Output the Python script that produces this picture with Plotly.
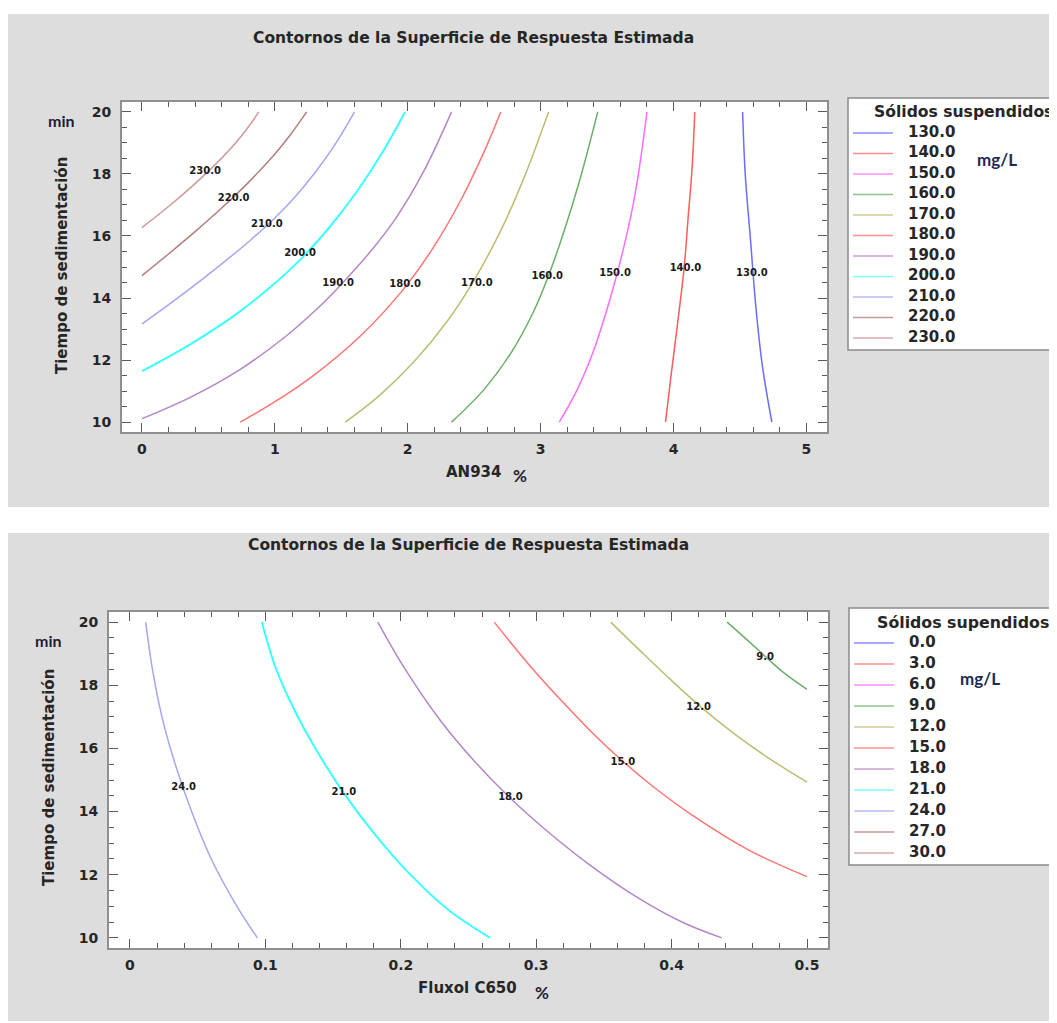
import plotly.graph_objects as go

# page body adds an 8px margin, so the figure is drawn 8px smaller and shifted
PAGE_W, PAGE_H = 1057, 1023
OFF = 8
W, H = PAGE_W - OFF, PAGE_H - OFF

# ---------------- DATA: top panel (AN934 %) ----------------
an_levels = [130, 140, 150, 160, 170, 180, 190, 200, 210, 220, 230]

an_130_x = [4.74, 4.67, 4.62, 4.58, 4.54, 4.52]
an_130_y = [10.0, 11.77, 13.70, 15.84, 17.98, 20.0]
an_140_x = [3.94, 3.98, 4.03, 4.08, 4.11, 4.14, 4.16]
an_140_y = [10.0, 11.45, 13.16, 14.98, 16.59, 18.20, 20.0]
an_150_x = [3.14, 3.27, 3.39, 3.49, 3.57, 3.64, 3.70, 3.75, 3.80]
an_150_y = [10.0, 11.0, 12.2, 13.5, 14.7, 15.9, 17.1, 18.4, 20.0]
an_160_x = [2.33, 2.57, 2.78, 2.95, 3.05, 3.17, 3.29, 3.43]
an_160_y = [10.0, 11.03, 12.25, 13.59, 14.61, 16.07, 17.73, 20.0]
an_170_x = [1.53, 1.78, 2.05, 2.29, 2.50, 2.71, 2.88, 3.06]
an_170_y = [10.0, 10.83, 11.96, 13.21, 14.58, 16.26, 17.93, 20.0]
an_180_x = [0.74, 0.98, 1.29, 1.64, 1.95, 2.19, 2.40, 2.57, 2.70]
an_180_y = [10.0, 10.60, 11.50, 12.76, 14.19, 15.61, 17.16, 18.67, 20.0]
an_190_x = [0.0, 0.36, 0.74, 1.09, 1.33, 1.48, 1.71, 1.91, 2.12, 2.33]
an_190_y = [10.11, 10.79, 11.70, 12.79, 13.70, 14.35, 15.45, 16.57, 18.08, 20.0]
an_200_x = [0.0, 0.36, 0.71, 0.98, 1.21, 1.42, 1.62, 1.81, 1.98]
an_200_y = [11.64, 12.50, 13.48, 14.40, 15.32, 16.33, 17.45, 18.70, 20.0]
an_210_x = [0.0, 0.26, 0.53, 0.81, 1.0, 1.16, 1.30, 1.45, 1.60]
an_210_y = [13.16, 13.97, 14.86, 15.84, 16.58, 17.30, 18.03, 18.93, 20.0]
an_220_x = [0.0, 0.2, 0.4, 0.6, 0.8, 1.0, 1.12, 1.24]
an_220_y = [14.72, 15.42, 16.14, 16.90, 17.72, 18.64, 19.28, 20.0]
an_230_x = [0.0, 0.2, 0.4, 0.6, 0.75, 0.88]
an_230_y = [16.27, 16.95, 17.69, 18.51, 19.23, 20.0]

an_label_x = [4.59, 4.09, 3.56, 3.05, 2.52, 1.98, 1.476, 1.19, 0.94, 0.69, 0.476]
an_label_y = [14.79, 14.96, 14.79, 14.69, 14.47, 14.45, 14.47, 15.43, 16.38, 17.21, 18.07]

an_xticks = [0, 1, 2, 3, 4, 5]
an_yticks = [10, 12, 14, 16, 18, 20]

# ---------------- DATA: bottom panel (Fluxol C650 %) ----------------
fx_levels = [0, 3, 6, 9, 12, 15, 18, 21, 24, 27, 30]

fx_9_x = [0.441, 0.457, 0.469, 0.483, 0.500]
fx_9_y = [20.0, 19.39, 18.92, 18.39, 17.87]
fx_12_x = [0.355, 0.3771, 0.4004, 0.4222, 0.4466, 0.4707, 0.500]
fx_12_y = [20.0, 19.08, 18.13, 17.29, 16.45, 15.72, 14.93]
fx_15_x = [0.269, 0.2945, 0.3189, 0.3425, 0.3635, 0.3870, 0.4171, 0.4570, 0.500]
fx_15_y = [20.0, 18.66, 17.50, 16.45, 15.61, 14.77, 13.83, 12.78, 11.94]
fx_18_x = [0.183, 0.2026, 0.2295, 0.2541, 0.2800, 0.3073, 0.3412, 0.3774, 0.4092, 0.4370]
fx_18_y = [20.0, 18.55, 16.87, 15.61, 14.46, 13.41, 12.26, 11.21, 10.47, 10.0]
fx_21_x = [0.0974, 0.1076, 0.1230, 0.1394, 0.1583, 0.1802, 0.2060, 0.2350, 0.2660]
fx_21_y = [20.0, 18.55, 17.08, 15.82, 14.56, 13.31, 12.05, 10.89, 10.0]
fx_24_x = [0.0116, 0.0166, 0.0236, 0.0334, 0.0455, 0.0600, 0.0790, 0.0941]
fx_24_y = [20.0, 18.5, 17.0, 15.5, 14.0, 12.5, 11.0, 10.0]

fx_label_levels = [9, 12, 15, 18, 21, 24]
fx_label_x = [0.469, 0.420, 0.364, 0.281, 0.158, 0.0396]
fx_label_y = [18.87, 17.29, 15.56, 14.44, 14.60, 14.77]

fx_xticks = [0, 0.1, 0.2, 0.3, 0.4, 0.5]
fx_yticks = [10, 12, 14, 16, 18, 20]

# ---------------- STYLE ----------------
line_colors = ['#6c6cff', '#ff5c5c', '#ff6cff', '#6aae6a', '#bcbc74', '#ff7474',
               '#b486c6', '#3cffff', '#a6a6f0', '#b47e7e', '#cf9a9a']
legend_colors = ['#8c8cff', '#ff8c8c', '#ff8cff', '#8cc48c', '#cccc90', '#ff9090',
                 '#c8a0d4', '#80ffff', '#babaf4', '#c49a9a', '#d8aaaa']
FONT = 'DejaVu Sans'
TXT = '#262626'


def px_x(p):
    return (p - OFF) / W


def px_y(p):
    return 1 - (p - OFF) / H


an_lines = {130: (an_130_x, an_130_y), 140: (an_140_x, an_140_y), 150: (an_150_x, an_150_y),
            160: (an_160_x, an_160_y), 170: (an_170_x, an_170_y), 180: (an_180_x, an_180_y),
            190: (an_190_x, an_190_y), 200: (an_200_x, an_200_y), 210: (an_210_x, an_210_y),
            220: (an_220_x, an_220_y), 230: (an_230_x, an_230_y)}
fx_lines = {9: (fx_9_x, fx_9_y), 12: (fx_12_x, fx_12_y), 15: (fx_15_x, fx_15_y),
            18: (fx_18_x, fx_18_y), 21: (fx_21_x, fx_21_y), 24: (fx_24_x, fx_24_y)}

fig = go.Figure()

# contour lines - top
for i, lev in enumerate(an_levels):
    xs, ys = an_lines[lev]
    fig.add_trace(go.Scatter(x=xs, y=ys, mode='lines', xaxis='x', yaxis='y',
                             line=dict(color=line_colors[i], width=2 if lev == 200 else 1.5,
                                       shape='spline', smoothing=1.0),
                             showlegend=False, hoverinfo='skip'))
fig.add_trace(go.Scatter(x=an_label_x, y=an_label_y, mode='text', xaxis='x', yaxis='y',
                         text=[f"{v:.1f}" for v in an_levels],
                         textfont=dict(family=FONT, size=10, color='#1a1a1a', weight='bold'),
                         showlegend=False, hoverinfo='skip'))

# contour lines - bottom
for lev, (xs, ys) in fx_lines.items():
    i = fx_levels.index(lev)
    fig.add_trace(go.Scatter(x=xs, y=ys, mode='lines', xaxis='x2', yaxis='y2',
                             line=dict(color=line_colors[i], width=2 if lev == 21 else 1.5,
                                       shape='spline', smoothing=1.0),
                             showlegend=False, hoverinfo='skip'))
fig.add_trace(go.Scatter(x=fx_label_x, y=fx_label_y, mode='text', xaxis='x2', yaxis='y2',
                         text=[f"{v:.1f}" for v in fx_label_levels],
                         textfont=dict(family=FONT, size=10, color='#1a1a1a', weight='bold'),
                         showlegend=False, hoverinfo='skip'))

# legends (drawn on their own hidden axes)
for ax_x, ax_y, levels in (('x3', 'y3', an_levels), ('x4', 'y4', fx_levels)):
    for i, lev in enumerate(levels):
        fig.add_trace(go.Scatter(x=[5, 45], y=[i, i], mode='lines', xaxis=ax_x, yaxis=ax_y,
                                 line=dict(color=legend_colors[i], width=1.5),
                                 showlegend=False, hoverinfo='skip'))
    fig.add_trace(go.Scatter(x=[60] * len(levels), y=list(range(len(levels))), mode='text',
                             xaxis=ax_x, yaxis=ax_y, text=[f"{v:.1f}" for v in levels],
                             textposition='middle right',
                             textfont=dict(family=FONT, size=15, color=TXT, weight='bold'),
                             showlegend=False, hoverinfo='skip'))

# ---------------- AXES ----------------
tickfont = dict(family=FONT, size=14, color=TXT, weight='bold')


def axis(dom, rng, tickvals, minor_dtick, standoff):
    return dict(domain=dom, range=rng, tickvals=tickvals, showline=True, linecolor='#8f8f8f',
                linewidth=2, mirror='allticks', ticks='inside', ticklen=9, tickwidth=1,
                tickcolor='#5a5a5a', showgrid=False, zeroline=False, tickfont=tickfont,
                ticklabelstandoff=standoff, fixedrange=True,
                minor=dict(ticks='inside', ticklen=5, tickwidth=1, tickcolor='#5a5a5a',
                           dtick=minor_dtick, showgrid=False))


hidden = dict(visible=False, fixedrange=True, showgrid=False, zeroline=False)

fig.update_layout(
    width=W, height=H, autosize=False,
    margin=dict(l=0, r=0, t=0, b=0),
    paper_bgcolor='white', plot_bgcolor='rgba(0,0,0,0)',
    xaxis=dict(axis([px_x(122), px_x(827)], [-0.15, 5.155], an_xticks, 0.2, 3), anchor='y'),
    yaxis=dict(axis([px_y(432), px_y(102)], [9.68, 20.32], an_yticks, 0.5, 6), anchor='x'),
    xaxis2=dict(axis([px_x(109), px_x(828)], [-0.0155, 0.5155], fx_xticks, 0.02, 3), anchor='y2'),
    yaxis2=dict(axis([px_y(948), px_y(612)], [9.68, 20.32], fx_yticks, 0.5, 6), anchor='x2'),
    xaxis3=dict(hidden, domain=[px_x(848), 1], range=[0, 209], anchor='y3'),
    yaxis3=dict(hidden, domain=[px_y(350), px_y(98)], range=[10.585, -1.707], anchor='x3'),
    xaxis4=dict(hidden, domain=[px_x(849), 1], range=[0, 208], anchor='y4'),
    yaxis4=dict(hidden, domain=[px_y(865), px_y(608)], range=[10.571, -1.667], anchor='x4'),
)

# ---------------- BACKGROUND SHAPES ----------------
shapes = []
gray = '#dddddd'
shapes.append(dict(type='rect', xref='paper', yref='paper', x0=px_x(8), x1=px_x(1080),
                   y0=px_y(507), y1=px_y(14), fillcolor=gray, line=dict(width=0), layer='below'))
shapes.append(dict(type='rect', xref='paper', yref='paper', x0=px_x(8), x1=px_x(1080),
                   y0=px_y(1021), y1=px_y(533), fillcolor=gray, line=dict(width=0), layer='below'))
shapes.append(dict(type='rect', xref='paper', yref='paper', x0=px_x(122), x1=px_x(827),
                   y0=px_y(432), y1=px_y(102), fillcolor='white', line=dict(width=0), layer='below'))
shapes.append(dict(type='rect', xref='paper', yref='paper', x0=px_x(109), x1=px_x(828),
                   y0=px_y(948), y1=px_y(612), fillcolor='white', line=dict(width=0), layer='below'))
shapes.append(dict(type='rect', xref='paper', yref='paper', x0=px_x(848), x1=px_x(1090),
                   y0=px_y(350), y1=px_y(98), fillcolor='white',
                   line=dict(width=1.5, color='#8a8a8a'), layer='below'))
shapes.append(dict(type='rect', xref='paper', yref='paper', x0=px_x(849), x1=px_x(1090),
                   y0=px_y(865), y1=px_y(608), fillcolor='white',
                   line=dict(width=1.5, color='#8a8a8a'), layer='below'))

# ---------------- TEXT ----------------
ann = []


def text(s, x, y, size=15, color=TXT, angle=0, xanchor='center', family=FONT):
    ann.append(dict(text=s, x=px_x(x), y=px_y(y), xref='paper', yref='paper', showarrow=False,
                    xanchor=xanchor, yanchor='middle', textangle=angle,
                    font=dict(family=family, size=size, color=color, weight='bold')))


title = 'Contornos de la Superficie de Respuesta Estimada'
text(title, 473, 38, size=15.5)
text(title, 468, 545, size=15.5)
text('Tiempo de sedimentación', 62, 266, angle=-90)
text('Tiempo de sedimentación', 49, 778, angle=-90)
text('min', 61, 121, size=16, color='#1d1d33', family='Lato')
text('min', 48, 640, size=16, color='#1d1d33', family='Lato')
text('AN934', 473, 472)
text('%', 520, 476, size=17, color='#1d1d33', family='Lato')
text('Fluxol C650', 467, 988)
text('%', 542, 992, size=17, color='#1d1d33', family='Lato')
text('Sólidos suspendidos', 872, 112, size=15.6, xanchor='left')
text('Sólidos supendidos', 875, 622, size=15.8, xanchor='left')
text('mg/L', 997, 160, size=17, color='#1c2a52', family='Lato')
text('mg/L', 980, 678, size=17, color='#1c2a52', family='Lato')

fig.update_layout(shapes=shapes, annotations=ann)

fig.write_html('out.html')
